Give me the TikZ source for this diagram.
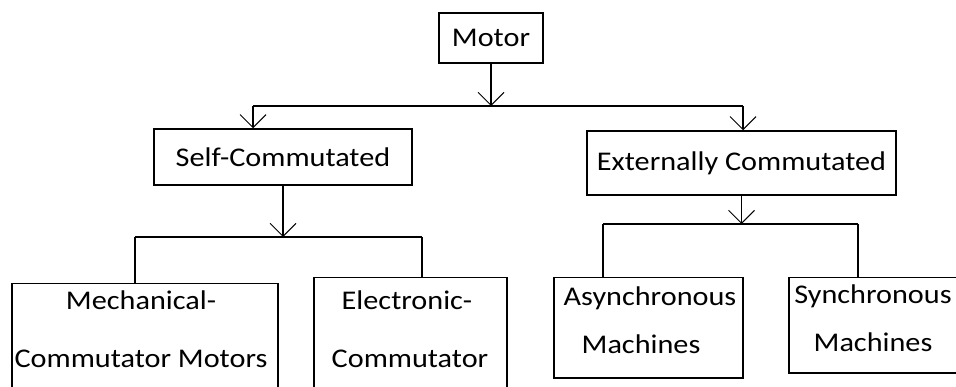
\documentclass[tikz,border=0pt]{standalone}
\usepackage{fontspec}
\setmainfont{Carlito}[FakeStretch=1.12]
\usetikzlibrary{arrows.meta}

\begin{document}
\begin{tikzpicture}[x=1pt, y=-1pt,
  box/.style={draw, line width=1.5pt, inner sep=0pt,
    font=\fontsize{27}{27}\selectfont},
  lbl/.style={font=\fontsize{27}{27}\selectfont, inner sep=0pt, anchor=base},
  wire/.style={line width=1.5pt},
  arr/.style={wire, -{Straight Barb[length=13pt, width=26pt, line width=1pt]}}]

\useasboundingbox (0,0) rectangle (956,387);
\clip (0,0) rectangle (956,387);

% top level
\node[box, minimum width=104pt, minimum height=50pt] (motor) at (491,38) {Motor};

% second level
\node[box, minimum width=258pt, minimum height=56pt] (self) at (283,157) {Self-Commutated};
\node[box, minimum width=309pt, minimum height=64pt] (ext) at (741.5,163) {Externally Commutated};

% third level (lower boxes run past the bottom edge)
\node[box, anchor=north west, minimum width=266pt, minimum height=130pt] (mech) at (11,283) {};
\node[box, anchor=north west, minimum width=193pt, minimum height=130pt] (elec) at (313,277) {};
\node[box, anchor=north west, minimum width=189pt, minimum height=100pt] (async) at (553,277) {};
\node[box, anchor=north west, minimum width=180pt, minimum height=95pt] (sync) at (788,277) {};

\node[lbl] (mechA) at (141,310) {Mechanical-};
\node[lbl] (mechB) at (141,367) {Commutator Motors};
\node[lbl] (elecA) at (407,310) {Electronic-};
\node[lbl] (elecB) at (410,367) {Commutator};
\node[lbl] (asyncA) at (650,306) {Asynchronous};
\node[lbl] (asyncB) at (641,354) {Machines};
\node[lbl] (syncA) at (873,304) {Synchronous};
\node[lbl] (syncB) at (873,352) {Machines};

% branch lines
\coordinate (busAl) at (253,106);
\coordinate (busAr) at (743,106);
\coordinate (busBl) at (135,237);
\coordinate (busBr) at (422,237);
\coordinate (busCl) at (603,224);
\coordinate (busCr) at (858,224);

\draw[arr] (motor.south) -- (motor.south |- busAl);
\draw[wire] (busAl) -- (busAr);
\draw[arr] (busAl) -- (busAl |- self.north);
\draw[arr] (busAr) -- (busAr |- ext.north);

\draw[arr] (self.south) -- (self.south |- busBl);
\draw[wire] (busBl) -- (busBr);
\draw[wire] (busBl) -- (busBl |- mech.north);
\draw[wire] (busBr) -- (busBr |- elec.north);

\draw[arr] (ext.south) -- (ext.south |- busCl);
\draw[wire] (busCl) -- (busCr);
\draw[wire] (busCl) -- (busCl |- async.north);
\draw[wire] (busCr) -- (busCr |- sync.north);
\end{tikzpicture}
\end{document}
